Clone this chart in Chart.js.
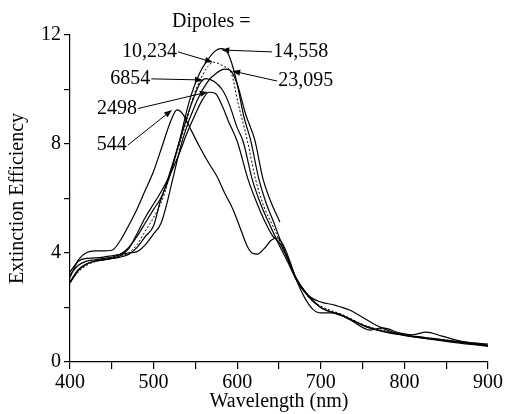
<!DOCTYPE html>
<html lang="en">
<head>
    <meta charset="UTF-8" />
    <title>Extinction Efficiency</title>
    <script src="https://cdn.jsdelivr.net/npm/chart.js"></script>
    <style>
        body {
            margin: 0;
            padding: 0;
            background-color: #ffffff;
        }

        .chart-container {
            width: 505px;
            height: 414px;
            position: relative;
        }
    </style>
</head>
<body>
    <div class="chart-container">
        <canvas id="extinctionChart"></canvas>
    </div>

    <script>
        // wavelength (nm) and extinction efficiency for each dipole count
        const wl544 = [400, 410, 420, 430, 440, 450, 460, 470, 480, 490, 500, 510, 520, 528, 535, 545, 555, 565, 576, 585, 595, 605, 612, 618, 624, 632, 641, 648, 655, 663, 671, 680, 690, 700, 715, 735, 759, 774, 795, 810, 826, 845, 870, 900];
        const ext544 = [3.1, 3.75, 4.02, 4.08, 4.08, 4.1, 4.45, 5.0, 5.6, 6.3, 7.0, 7.9, 8.8, 9.25, 9.1, 8.5, 7.9, 7.35, 6.8, 6.2, 5.6, 4.8, 4.25, 4.0, 3.96, 4.15, 4.48, 4.55, 4.3, 3.7, 3.0, 2.4, 1.95, 1.8, 1.8, 1.55, 1.17, 1.25, 1.06, 1.0, 1.1, 0.95, 0.75, 0.62];

        const wl2498 = [400, 410, 420, 430, 440, 450, 460, 470, 480, 490, 500, 510, 520, 530, 540, 550, 558, 566, 574, 582, 590, 600, 613, 624, 634, 643, 650, 660, 671, 685, 700, 715, 735, 755, 771, 786, 800, 825, 850, 875, 900];
        const ext2498 = [2.9, 3.35, 3.6, 3.7, 3.75, 3.8, 3.9, 4.15, 4.7, 5.3, 5.8, 6.3, 6.9, 7.6, 8.4, 9.1, 9.6, 9.9, 9.85, 9.4, 8.8, 8.1, 6.7, 5.8, 5.1, 4.6, 4.4, 3.8, 3.05, 2.45, 2.2, 2.1, 1.9, 1.55, 1.28, 1.1, 1.0, 0.9, 0.8, 0.72, 0.66];

        const wl6854 = [400, 410, 420, 430, 440, 450, 460, 470, 480, 490, 500, 510, 520, 530, 540, 548, 556, 563, 572, 582, 590, 600, 607, 618, 628, 638, 650, 660, 671, 685, 700, 725, 755, 780, 800, 850, 900];
        const ext6854 = [3.2, 3.55, 3.7, 3.75, 3.8, 3.85, 3.95, 4.2, 4.6, 5.1, 5.6, 6.1, 7.0, 8.0, 9.0, 9.7, 10.25, 10.4, 10.3, 10.0, 9.5, 8.6, 8.1, 6.7, 5.8, 5.1, 4.3, 3.7, 3.0, 2.4, 2.0, 1.72, 1.3, 1.1, 0.98, 0.78, 0.6];

        const wl10234 = [400, 410, 420, 430, 440, 450, 460, 470, 480, 490, 500, 511, 520, 530, 540, 546, 555, 565, 572, 578, 584, 593, 601, 612, 622, 632, 641, 650, 660, 671, 685, 700, 725, 755, 780, 800, 850, 900];
        const ext10234 = [2.9, 3.3, 3.55, 3.68, 3.74, 3.8, 3.88, 4.0, 4.3, 4.8, 5.3, 6.0, 6.9, 7.9, 8.9, 9.6, 10.3, 10.85, 11.0, 10.95, 10.85, 10.6, 9.5, 8.15, 6.7, 5.7, 5.1, 4.5, 3.8, 3.0, 2.4, 2.05, 1.75, 1.32, 1.12, 1.0, 0.8, 0.58];

        const wl14558 = [400, 410, 420, 430, 440, 450, 460, 470, 480, 490, 500, 508, 518, 530, 543, 555, 565, 573, 580, 586, 592, 600, 608, 616, 626, 635, 644, 650, 660, 671, 685, 700, 725, 755, 780, 800, 850, 900];
        const ext14558 = [2.95, 3.4, 3.6, 3.7, 3.75, 3.8, 3.85, 3.95, 4.2, 4.6, 5.0, 5.9, 6.7, 8.0, 9.6, 10.6, 11.1, 11.4, 11.5, 11.45, 11.1, 10.2, 9.0, 8.15, 6.7, 5.8, 5.1, 4.6, 3.85, 3.05, 2.45, 2.0, 1.7, 1.28, 1.08, 0.98, 0.76, 0.57];

        const wl23095 = [400, 410, 420, 430, 440, 450, 460, 470, 480, 490, 500, 509, 517, 522, 535, 552, 565, 575, 585, 592, 600, 610, 621, 631, 640, 651];
        const ext23095 = [3.3, 3.7, 3.8, 3.82, 3.85, 3.9, 3.95, 4.0, 4.05, 4.3, 4.7, 5.1, 5.95, 6.6, 8.2, 9.6, 10.3, 10.6, 10.75, 10.7, 10.2, 9.1, 8.15, 6.7, 5.9, 5.14];

        const xTicksLabelled = [400, 500, 600, 700, 800, 900];
        const yTicksLabelled = [0, 4, 8, 12];

        // arrow labels: text anchor and arrow tip, in data units
        const noteText = ['10,234', '14,558', '6854', '23,095', '2498', '544'];
        const noteSide = ['left', 'right', 'left', 'right', 'left', 'left'];
        const noteAtWl = [528, 643, 496, 649, 480, 468];
        const noteAtExt = [11.38, 11.38, 10.39, 10.31, 9.3, 7.96];
        const noteTipWl = [571, 581, 559, 594, 565, 522];
        const noteTipExt = [11.0, 11.45, 10.35, 10.68, 9.91, 9.25];

        const FONT = 'Liberation Serif';
        const FONT_SIZE = 20;

        function pts(xs, ys) {
            return xs.map((x, i) => ({ x: x, y: ys[i] }));
        }

        const series = [
            { label: '544', data: pts(wl544, ext544), dash: [] },
            { label: '2498', data: pts(wl2498, ext2498), dash: [] },
            { label: '6854', data: pts(wl6854, ext6854), dash: [] },
            { label: '10,234', data: pts(wl10234, ext10234), dash: [2, 2] },
            { label: '14,558', data: pts(wl14558, ext14558), dash: [] },
            { label: '23,095', data: pts(wl23095, ext23095), dash: [] }
        ];

        const datasets = series.map(s => ({
            label: s.label,
            data: s.data,
            borderColor: '#000',
            borderWidth: s.dash.length ? 1 : 1.2,
            borderDash: s.dash,
            pointRadius: 0,
            fill: false,
            cubicInterpolationMode: 'monotone'
        }));

        // draws "Dipoles =" and the arrow labels
        const arrowNotes = {
            id: 'arrowNotes',
            afterDatasetsDraw(chart) {
                const ctx = chart.ctx;
                const xs = chart.scales.x;
                const ys = chart.scales.y;
                ctx.save();
                ctx.fillStyle = '#000';
                ctx.strokeStyle = '#000';
                ctx.lineWidth = 1;
                ctx.font = FONT_SIZE + 'px "' + FONT + '"';
                ctx.textBaseline = 'middle';

                ctx.textAlign = 'center';
                ctx.fillText('Dipoles =', xs.getPixelForValue(569), ys.getPixelForValue(12.5));

                noteText.forEach((t, i) => {
                    const tx = xs.getPixelForValue(noteAtWl[i]);
                    const ty = ys.getPixelForValue(noteAtExt[i]);
                    const px = xs.getPixelForValue(noteTipWl[i]);
                    const py = ys.getPixelForValue(noteTipExt[i]);
                    ctx.textAlign = noteSide[i] === 'left' ? 'right' : 'left';
                    ctx.fillText(t, tx, ty);

                    const sx = noteSide[i] === 'left' ? tx + 1 : tx - 1;
                    const ang = Math.atan2(py - ty, px - sx);
                    const hl = 8, hw = 3;
                    ctx.beginPath();
                    ctx.moveTo(sx, ty);
                    ctx.lineTo(px - Math.cos(ang) * hl, py - Math.sin(ang) * hl);
                    ctx.stroke();
                    ctx.beginPath();
                    ctx.moveTo(px, py);
                    ctx.lineTo(px - Math.cos(ang) * hl - Math.sin(ang) * hw, py - Math.sin(ang) * hl + Math.cos(ang) * hw);
                    ctx.lineTo(px - Math.cos(ang) * hl + Math.sin(ang) * hw, py - Math.sin(ang) * hl - Math.cos(ang) * hw);
                    ctx.closePath();
                    ctx.fill();
                });
                ctx.restore();
            }
        };

        const ctx = document.getElementById('extinctionChart').getContext('2d');

        new Chart(ctx, {
            type: 'line',
            data: { datasets: datasets },
            options: {
                responsive: true,
                maintainAspectRatio: false,
                animation: false,
                layout: { padding: { top: 35, right: 17, left: 0, bottom: 0 } },
                plugins: {
                    legend: { display: false },
                    tooltip: { enabled: false }
                },
                scales: {
                    x: {
                        type: 'linear',
                        min: 400,
                        max: 900,
                        afterFit: scale => { scale.height = 52; },
                        border: { color: '#000', width: 1.2 },
                        grid: { drawOnChartArea: false, color: '#000', tickLength: 7, lineWidth: 1.2 },
                        ticks: {
                            stepSize: 50,
                            autoSkip: false,
                            maxRotation: 0,
                            color: '#000',
                            padding: 2,
                            font: { family: FONT, size: FONT_SIZE },
                            callback: v => xTicksLabelled.includes(v) ? String(v) : ''
                        },
                        title: {
                            display: true,
                            text: 'Wavelength (nm)',
                            color: '#000',
                            padding: { top: -5, bottom: 0 },
                            font: { family: FONT, size: FONT_SIZE }
                        }
                    },
                    y: {
                        min: 0,
                        max: 12,
                        afterFit: scale => { scale.width = 70; },
                        border: { color: '#000', width: 1.2 },
                        grid: { drawOnChartArea: false, color: '#000', tickLength: 6, lineWidth: 1.2 },
                        ticks: {
                            stepSize: 2,
                            autoSkip: false,
                            color: '#000',
                            padding: 3,
                            font: { family: FONT, size: FONT_SIZE },
                            callback: v => yTicksLabelled.includes(v) ? String(v) : ''
                        },
                        title: {
                            display: true,
                            text: 'Extinction Efficiency',
                            color: '#000',
                            padding: { top: 6, bottom: 0 },
                            font: { family: FONT, size: FONT_SIZE }
                        }
                    }
                }
            },
            plugins: [arrowNotes]
        });
    </script>
</body>
</html>
